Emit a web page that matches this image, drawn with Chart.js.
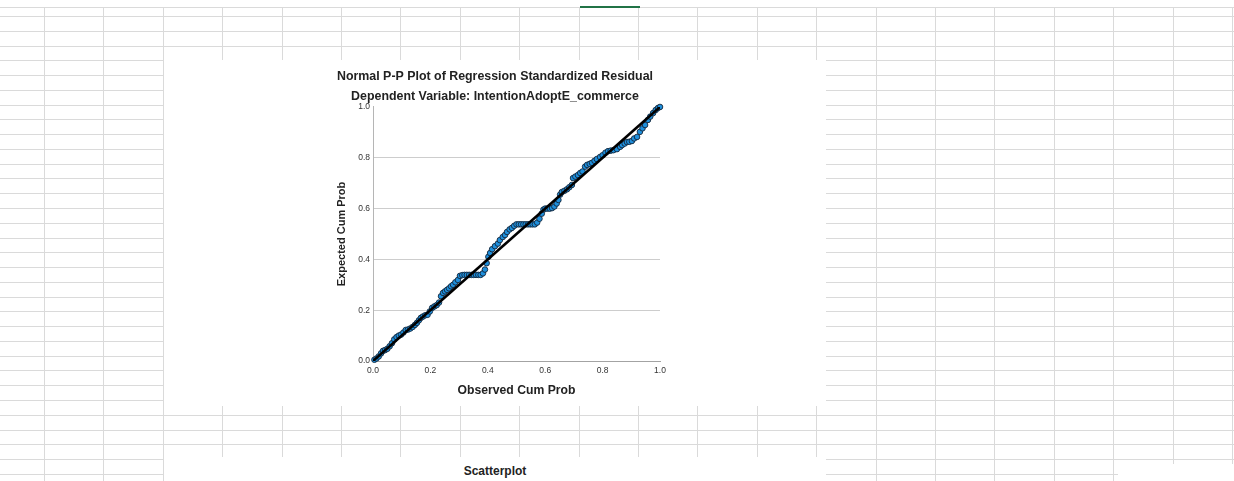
<!DOCTYPE html>
<html>
<head>
<meta charset="utf-8">
<title>Normal P-P Plot</title>
<script src="https://cdn.jsdelivr.net/npm/chart.js@4.4.1/dist/chart.umd.min.js"></script>
<style>
  html, body { margin: 0; padding: 0; background: #fff; }
  body { width: 1234px; height: 481px; position: relative; overflow: hidden; font-family: "Liberation Sans", Arial, sans-serif; }
  .hl { position: absolute; left: 0; width: 1234px; height: 1px; background: #dadada; }
  .vl { position: absolute; top: 7px; width: 1px; height: 474px; background: #dadada; }
  .pic { position: absolute; background: #fff; }
  #plotPic { left: 164px; top: 60px; width: 662px; height: 346px; }
  #nextPic { left: 164px; top: 457px; width: 662px; height: 24px; }
  #nextPic div { position: absolute; left: 0; width: 662px; top: 7px; text-align: center; font-weight: bold; font-size: 12px; color: #222; }
  #corner { left: 1118px; top: 464px; width: 116px; height: 17px; }
  #activeCell { position: absolute; left: 580px; top: 6px; width: 60px; height: 2px; background: #217346; }
</style>
</head>
<body>
<div id="sheet"></div>
<div id="activeCell"></div>
<div class="pic" id="plotPic"><canvas id="chart" width="662" height="346"></canvas></div>
<div class="pic" id="nextPic"><div>Scatterplot</div></div>
<div class="pic" id="corner"></div>
<script>
// observed vs expected cumulative probability
var observedCumProb = [
  0.005, 0.012, 0.020, 0.028, 0.035, 0.042, 0.050, 0.058, 0.066, 0.074,
  0.082, 0.090, 0.098, 0.106, 0.114, 0.122, 0.130, 0.138, 0.146, 0.153,
  0.160, 0.167, 0.174, 0.182, 0.190, 0.198, 0.206, 0.214, 0.222, 0.230,
  0.237, 0.244, 0.251, 0.258, 0.265, 0.272, 0.279, 0.287, 0.296, 0.303,
  0.311, 0.319, 0.327, 0.335, 0.343, 0.351, 0.359, 0.367, 0.375, 0.383,
  0.390, 0.396, 0.402, 0.408, 0.415, 0.425, 0.435, 0.442, 0.452, 0.460,
  0.467, 0.476, 0.484, 0.492, 0.500, 0.508, 0.516, 0.524, 0.532, 0.540,
  0.548, 0.556, 0.564, 0.572, 0.580, 0.588, 0.594, 0.600, 0.608, 0.616,
  0.624, 0.632, 0.640, 0.646, 0.652, 0.658, 0.667, 0.676, 0.684, 0.693,
  0.697, 0.705, 0.714, 0.722, 0.730, 0.739, 0.746, 0.755, 0.763, 0.772,
  0.780, 0.791, 0.800, 0.810, 0.819, 0.828, 0.838, 0.850, 0.861, 0.868,
  0.877, 0.885, 0.893, 0.902, 0.910, 0.920, 0.930, 0.939, 0.948, 0.958,
  0.966, 0.976, 0.985, 0.993, 1.000
];
var expectedCumProb = [
  0.005, 0.010, 0.018, 0.030, 0.040, 0.043, 0.048, 0.058, 0.070, 0.085,
  0.094, 0.100, 0.104, 0.112, 0.122, 0.124, 0.128, 0.134, 0.142, 0.150,
  0.160, 0.170, 0.175, 0.180, 0.182, 0.195, 0.209, 0.215, 0.220, 0.230,
  0.255, 0.268, 0.274, 0.280, 0.286, 0.294, 0.300, 0.310, 0.319, 0.335,
  0.338, 0.339, 0.339, 0.339, 0.339, 0.339, 0.339, 0.339, 0.339, 0.345,
  0.360, 0.385, 0.410, 0.425, 0.440, 0.452, 0.462, 0.476, 0.488, 0.496,
  0.508, 0.518, 0.524, 0.532, 0.538, 0.538, 0.538, 0.538, 0.538, 0.538,
  0.538, 0.538, 0.538, 0.545, 0.560, 0.580, 0.596, 0.600, 0.600, 0.600,
  0.602, 0.608, 0.620, 0.634, 0.655, 0.665, 0.670, 0.676, 0.684, 0.693,
  0.720, 0.726, 0.732, 0.740, 0.746, 0.765, 0.772, 0.776, 0.780, 0.788,
  0.795, 0.803, 0.810, 0.820, 0.826, 0.828, 0.830, 0.834, 0.843, 0.850,
  0.856, 0.862, 0.863, 0.866, 0.876, 0.882, 0.902, 0.916, 0.929, 0.949,
  0.962, 0.976, 0.988, 0.996, 1.000
];
// diagonal reference line
var refLineX = [0, 1];
var refLineY = [0, 1];
var tickValues = [0, 0.2, 0.4, 0.6, 0.8, 1.0];
var tickLabels = ['0.0', '0.2', '0.4', '0.6', '0.8', '1.0'];

// spreadsheet cell grid behind the pasted charts
(function () {
    var sheet = document.getElementById('sheet');
    var html = '<div class="hl" style="top:7px"></div>';
    for (var y = 16; y < 481; y += 14.77) {
        html += '<div class="hl" style="top:' + Math.round(y) + 'px"></div>';
    }
    for (var x = 44; x < 1234; x += 59.4) {
        html += '<div class="vl" style="left:' + Math.round(x) + 'px"></div>';
    }
    sheet.innerHTML = html;
})();

var points = observedCumProb.map(function (v, i) {
    return { x: v, y: expectedCumProb[i] };
});
var refLine = refLineX.map(function (v, i) {
    return { x: v, y: refLineY[i] };
});

function tickText(value) {
    var i = tickValues.findIndex(function (t) { return Math.abs(t - value) < 1e-6; });
    return i >= 0 ? tickLabels[i] : '';
}

var sans = '"Liberation Sans", Arial, sans-serif';
var tickFont = { family: sans, size: 8.5 };

new Chart(document.getElementById('chart'), {
    type: 'scatter',
    data: {
        datasets: [
            {
                type: 'line',
                data: refLine,
                borderColor: '#000',
                borderWidth: 2.6,
                pointRadius: 0,
                order: 0
            },
            {
                data: points,
                backgroundColor: '#1e8fdc',
                borderColor: '#14263a',
                borderWidth: 0.9,
                pointRadius: 2.8,
                clip: false,
                order: 1
            }
        ]
    },
    options: {
        responsive: false,
        animation: false,
        devicePixelRatio: 1,
        layout: { padding: 0 },
        plugins: {
            legend: { display: false },
            tooltip: { enabled: false },
            title: {
                display: true,
                text: 'Normal P-P Plot of Regression Standardized Residual',
                color: '#222',
                font: { family: sans, size: 12.4, weight: 'bold', lineHeight: 1.2 },
                padding: { top: 9, bottom: 3 }
            },
            subtitle: {
                display: true,
                text: 'Dependent Variable: IntentionAdoptE_commerce',
                color: '#222',
                font: { family: sans, size: 12.4, weight: 'bold', lineHeight: 1.2 },
                padding: { top: 2, bottom: 3.2 }
            }
        },
        scales: {
            x: {
                type: 'linear',
                min: 0,
                max: 1,
                grid: { display: false, drawTicks: false },
                border: { display: true, color: '#a3a3a3', width: 1 },
                ticks: {
                    stepSize: 0.2,
                    padding: 5,
                    color: '#333',
                    font: tickFont,
                    maxRotation: 0,
                    callback: tickText
                },
                title: {
                    display: true,
                    text: 'Observed Cum Prob',
                    color: '#222',
                    font: { family: sans, size: 12.2, weight: 'bold', lineHeight: 1.2 },
                    padding: { top: 0, bottom: 8 }
                },
                afterFit: function (scale) { scale.height = 45; }
            },
            y: {
                type: 'linear',
                min: 0,
                max: 1,
                grid: {
                    drawTicks: false,
                    color: function (ctx) {
                        var v = ctx.tick && ctx.tick.value;
                        return (v > 0.01 && v < 0.99) ? '#cdcdcd' : 'rgba(0,0,0,0)';
                    }
                },
                border: { display: true, color: '#b5b5b5', width: 1 },
                ticks: {
                    stepSize: 0.2,
                    padding: 3,
                    color: '#333',
                    font: tickFont,
                    callback: tickText
                },
                title: {
                    display: true,
                    text: 'Expected Cum Prob',
                    color: '#222',
                    font: { family: sans, size: 11, weight: 'bold', lineHeight: 1.2 },
                    padding: { top: 171, bottom: 0 }
                },
                afterFit: function (scale) { scale.width = 209; }
            },
            // empty right axis, only reserves the white margin of the pasted picture
            yRight: {
                type: 'linear',
                position: 'right',
                display: true,
                grid: { display: false },
                border: { display: false },
                ticks: { display: false },
                afterFit: function (scale) { scale.width = 166; }
            }
        }
    }
});
</script>
</body>
</html>
